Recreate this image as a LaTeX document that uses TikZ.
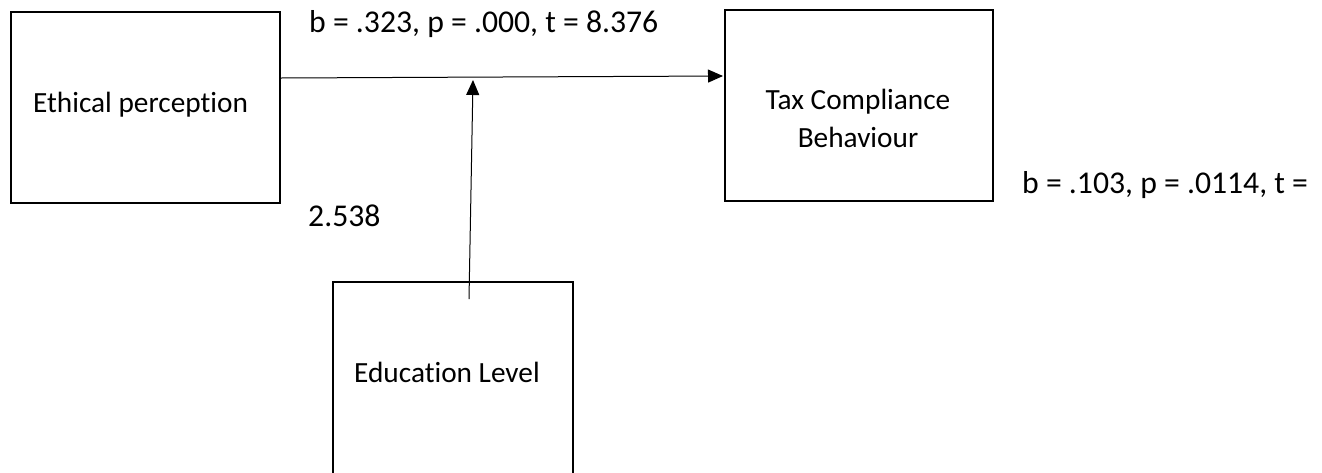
\documentclass[tikz,border=0pt]{standalone}
\usepackage{fontspec}
\setmainfont{Carlito}[Ligatures=NoCommon]
\usetikzlibrary{arrows.meta}
\begin{document}
\begin{tikzpicture}[x=1pt,y=-1pt,
  box/.style={draw=black,line width=1.4pt,fill=none,inner sep=0pt,outer sep=0pt},
  lbl/.style={font=\fontsize{29.3}{35}\selectfont,inner sep=0pt,anchor=base west},
  stat/.style={font=\fontsize{31.7}{38}\selectfont,inner sep=0pt,anchor=base west},
  conn/.style={draw=black,line width=1pt,-{Triangle[length=15pt,width=13pt]}}]
\useasboundingbox (0,0) rectangle (1322,472);
\clip (0,0) rectangle (1322,472);
\node[box,minimum width=269pt,minimum height=191pt] (ep) at (145.5,107.5) {};
\node[box,minimum width=268pt,minimum height=191pt] (tc) at (859,105.5) {};
\node[box,minimum width=240pt,minimum height=238pt] (el) at (453,401) {};
\node[lbl] (t1) at (33,112) {Ethical perception};
\node[lbl,anchor=base] (t2) at (858,109) {Tax Compliance};
\node[lbl,anchor=base] (t3) at (858,147) {Behaviour};
\node[lbl] (t4) at (354,382) {Education Level};
\node[stat] (s1) at (309,32) {b = .323, p = .000, t = 8.376};
\node[stat] (s2) at (1022,193) {b = .103, p = .0114, t =};
\node[stat] (s3) at (308,226) {2.538};
\coordinate (a1) at (281,78);
\coordinate (a2) at (723,76);
\coordinate (v1) at (469,299);
\coordinate (v2) at (473,80);
\draw[conn] (a1) -- (a2);
\draw[conn] (v1) -- (v2);
\end{tikzpicture}
\end{document}
